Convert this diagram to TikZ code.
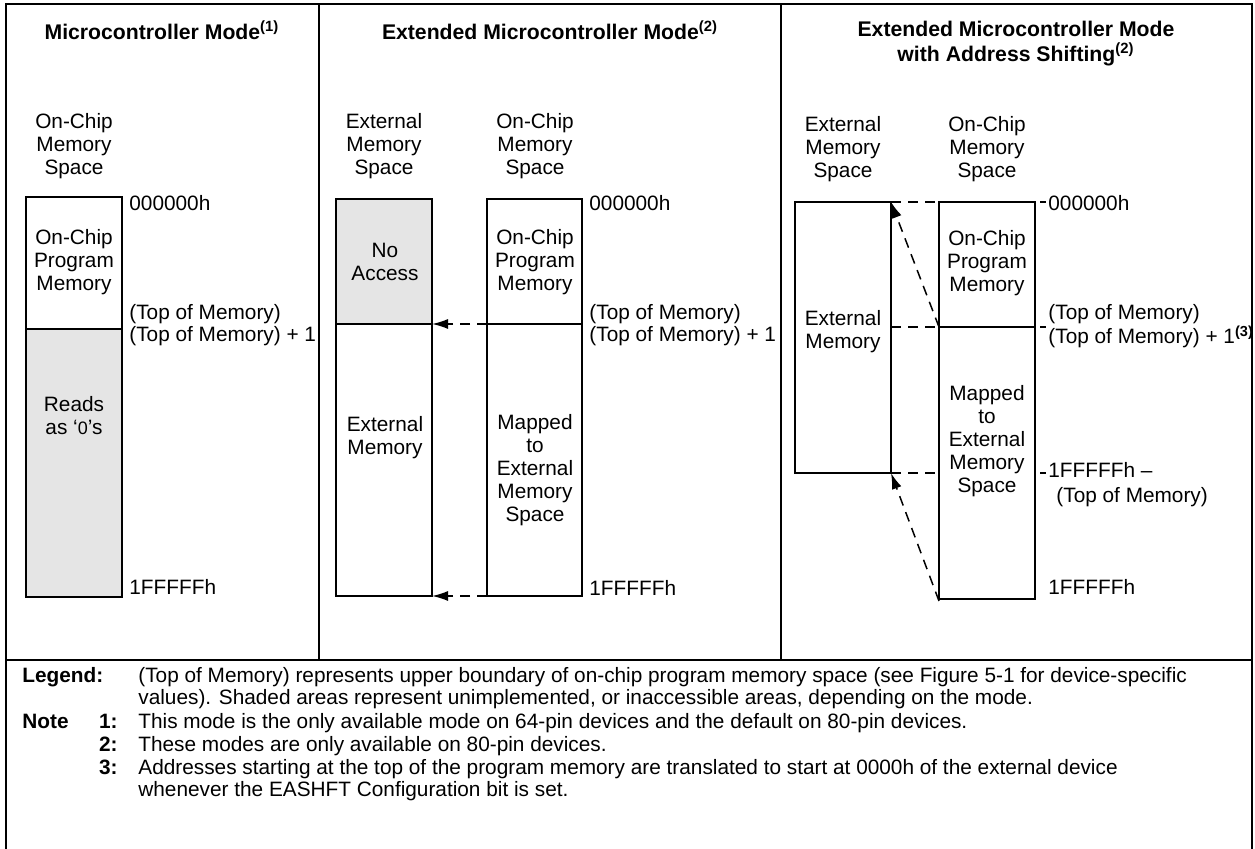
\documentclass[tikz,border=0pt]{standalone}
\usepackage{fontspec}
\setmainfont{Liberation Sans}
\usetikzlibrary{arrows.meta}
\tikzset{>={Latex[length=8pt, width=5pt]}}
\newcommand\memfont{\fontsize{10.4}{11.5}\selectfont}
\newcommand\addr[4]{{\node[addr] (#1) at (#2, #3) {#4};}}
\newcommand\note[4]{{\node[lgd, anchor=base east, font=\memfont\bfseries] (#1n) at (118, #2) {#3}; \node[lgd] (#1) at (138, #2) {#4};}}
\tikzset{
	frame/.style = {line width = 1pt},
	mem/.style = {line width = 1pt},
	shade/.style = {fill = gray!20},
	txt/.style = {align = center, font = \memfont, inner sep = 0pt},
	hdr/.style = {align = center, font = \fontsize{10.6}{12.5}\selectfont\bfseries, inner sep = 0pt},
	addr/.style = {anchor = west, font = \memfont, inner sep = 0pt},
	lgd/.style = {anchor = base west, font = \memfont, inner sep = 0pt},
	link/.style = {dash pattern = on 5pt off 3.5pt, line width = 0.75pt}
}

\begin{document}
\begin{tikzpicture}[x = 0.5pt, y = -0.5pt]
	\useasboundingbox (0, 0) rectangle (1255, 849);
	\draw[frame] (6, 849) |- (1252, 4) -- (1252, 849);
	\draw[frame] (6, 660) -- (1252, 660);
	\draw[frame] (319, 4) -- (319, 660);
	\draw[frame] (781, 4) -- (781, 660);

	\node[hdr] (t1) at (162, 30) {Microcontroller Mode\textsuperscript{(1)}};
	\node[hdr] (t2) at (550, 30) {Extended Microcontroller Mode\textsuperscript{(2)}};
	\node[hdr] (t3) at (1016, 44) {Extended Microcontroller Mode\\with Address Shifting\textsuperscript{(2)}};

	\node[txt] (h1) at (74, 146) {On-Chip\\Memory\\Space};
	\node[txt] (h2a) at (384, 146) {External\\Memory\\Space};
	\node[txt] (h2b) at (535, 146) {On-Chip\\Memory\\Space};
	\node[txt] (h3a) at (843, 149) {External\\Memory\\Space};
	\node[txt] (h3b) at (987, 149) {On-Chip\\Memory\\Space};

	\fill[shade] (26, 329) rectangle (122, 597);
	\draw[mem] (26, 197) rectangle (122, 597);
	\draw[mem] (26, 329) -- (122, 329);
	\node[txt] (p1a) at (74, 262) {On-Chip\\Program\\Memory};
	\node[txt] (p1b) at (74, 416) {Reads\\as ‘{\fontsize{9}{11}\selectfont 0}’s};
	\addr{a1}{129}{203}{000000h}
	\addr{a2}{129}{314}{(Top of Memory)}
	\addr{a3}{129}{336}{(Top of Memory) + 1}
	\addr{a4}{129}{587}{1FFFFFh}

	\fill[shade] (336, 199) rectangle (432, 324);
	\draw[mem] (336, 199) rectangle (432, 596);
	\draw[mem] (336, 324) -- (432, 324);
	\draw[mem] (487, 199) rectangle (582, 596);
	\draw[mem] (487, 324) -- (582, 324);
	\node[txt] (p2a) at (385, 262) {No\\Access};
	\node[txt] (p2b) at (385, 438) {External\\Memory};
	\node[txt] (p2c) at (535, 262) {On-Chip\\Program\\Memory};
	\node[txt] (p2d) at (535, 470) {Mapped\\to\\External\\Memory\\Space};
	\addr{b1}{589}{203}{000000h}
	\addr{b2}{589}{314}{(Top of Memory)}
	\addr{b3}{589}{336}{(Top of Memory) + 1}
	\addr{b4}{589}{588}{1FFFFFh}
	\coordinate (x2t) at (432, 324);
	\coordinate (o2t) at (487, 324);
	\coordinate (x2b) at (432, 596);
	\coordinate (o2b) at (487, 596);
	\draw[link, ->] (o2t) -- (x2t);
	\draw[link, ->] (o2b) -- (x2b);

	\draw[mem] (795, 202) rectangle (891, 473);
	\draw[mem] (939, 202) rectangle (1035, 599);
	\draw[mem] (939, 327) -- (1035, 327);
	\node[txt] (p3a) at (843, 332) {External\\Memory};
	\node[txt] (p3b) at (987, 263) {On-Chip\\Program\\Memory};
	\node[txt] (p3c) at (987, 441) {Mapped\\to\\External\\Memory\\Space};
	\addr{c1}{1048}{203}{000000h}
	\addr{c2}{1048}{314}{(Top of Memory)}
	\addr{c3}{1048}{337}{(Top of Memory) + 1\textsuperscript{\bfseries(3)}}
	\addr{c4}{1048}{470}{1FFFFFh --}
	\addr{c5}{1056}{497}{(Top of Memory)}
	\addr{c6}{1048}{587}{1FFFFFh}
	\coordinate (x3t) at (891, 202);
	\coordinate (o3t) at (939, 202);
	\coordinate (x3m) at (891, 327);
	\coordinate (o3m) at (939, 327);
	\coordinate (x3b) at (891, 473);
	\coordinate (o3b) at (939, 473);
	\coordinate (o3e) at (939, 601);
	\draw[link] (x3t) -- (o3t);
	\draw[link] (x3m) -- (o3m);
	\draw[link] (x3b) -- (o3b);
	\draw[link] (1040, 202) -- (1046, 202);
	\draw[link] (1040, 327) -- (1046, 327);
	\draw[link] (1040, 473) -- (1046, 473);
	\draw[link, ->] (o3m) -- (x3t);
	\draw[link, ->] (o3e) -- (x3b);

	\node[lgd, font = \memfont\bfseries] (lg) at (22, 683) {Legend:};
	\node[lgd] (lg1) at (138, 683) {(Top of Memory) represents upper boundary of on-chip program memory space (see Figure 5-1 for device-specific};
	\node[lgd] (lg2) at (138, 705) {values). Shaded areas represent unimplemented, or inaccessible areas, depending on the mode.};
	\node[lgd, font = \memfont\bfseries] (nt) at (22, 729) {Note};
	\note{n1}{729}{1:}{This mode is the only available mode on 64-pin devices and the default on 80-pin devices.}
	\note{n2}{752}{2:}{These modes are only available on 80-pin devices.}
	\note{n3}{775}{3:}{Addresses starting at the top of the program memory are translated to start at 0000h of the external device}
	\node[lgd] (n3b) at (138, 797) {whenever the EASHFT Configuration bit is set.};
\end{tikzpicture}
\end{document}
